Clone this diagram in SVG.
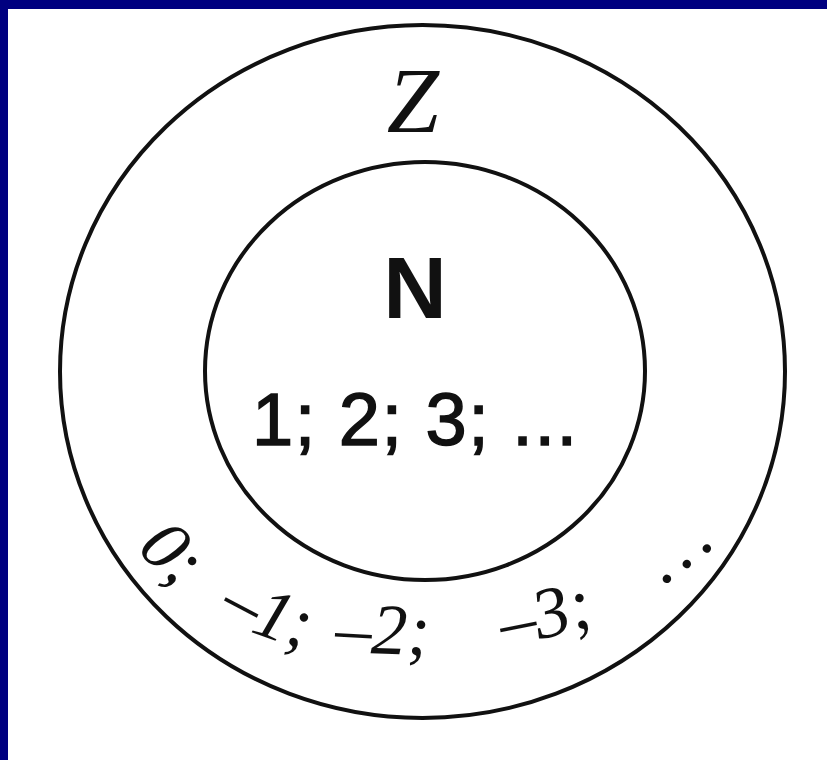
<svg xmlns="http://www.w3.org/2000/svg" xmlns:xlink="http://www.w3.org/1999/xlink" width="827" height="760" viewBox="0 0 827 760">
  <style>
    .ring { fill: none; stroke: #111; stroke-width: 4; }
    .ital { font-family: "Liberation Serif", "Times New Roman", serif; font-style: italic; fill: #111; }
    .sans { font-family: "Liberation Sans", Arial, sans-serif; fill: #111; stroke: #111; }
  </style>
  <defs>
    <path id="arc" d="M 135,548 C 167,584 209.5,611.7 253,632 C 295.6,651.9 346,652.4 393,654 C 457,656.2 521.8,646.7 583,628 C 640.4,610.5 685.9,566.4 735,532"/>
  </defs>
  <rect x="0" y="0" width="827" height="760" fill="#ffffff"/>
  <rect x="0" y="0" width="827" height="9" fill="#000080"/>
  <rect x="0" y="0" width="8" height="760" fill="#000080"/>

  <g id="Z">
    <ellipse class="ring" cx="422.5" cy="371.5" rx="362.5" ry="346.5"/>
    <text class="ital" x="413" y="132" font-size="94" text-anchor="middle">Z</text>
    <text class="ital" font-size="72"><textPath xlink:href="#arc" startOffset="2">0;</textPath></text>
    <text class="ital" font-size="72"><textPath xlink:href="#arc" startOffset="106">–1;</textPath></text>
    <text class="ital" font-size="72"><textPath xlink:href="#arc" startOffset="230">–2;</textPath></text>
    <text class="ital" font-size="72"><textPath xlink:href="#arc" startOffset="400">–3;</textPath></text>
    <text class="ital" font-size="72" letter-spacing="7"><textPath xlink:href="#arc" startOffset="572">...</textPath></text>
  </g>

  <g id="N">
    <ellipse class="ring" cx="425" cy="371" rx="220" ry="209"/>
    <text class="sans" x="415" y="318" font-size="88" font-weight="bold" text-anchor="middle" stroke-width="0">N</text>
    <text class="sans" x="252" y="445" font-size="74" letter-spacing="1.5" stroke-width="1.5">1; 2; 3; ...</text>
  </g>

  <g id="connectors"></g>
</svg>
